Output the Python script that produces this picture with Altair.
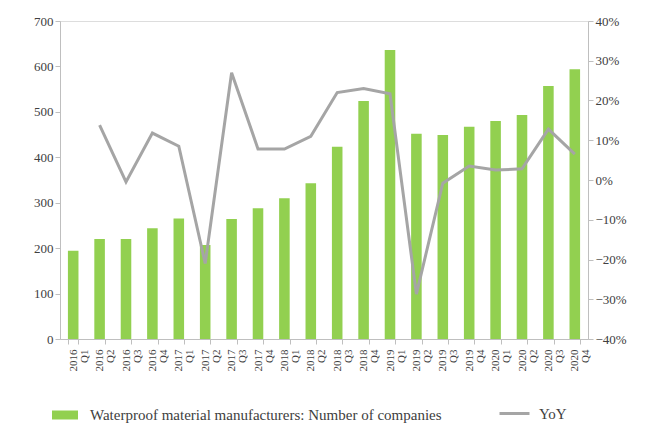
import altair as alt
import pandas as pd

periods = ["2016 Q1", "2016 Q2", "2016 Q3", "2016 Q4",
           "2017 Q1", "2017 Q2", "2017 Q3", "2017 Q4",
           "2018 Q1", "2018 Q2", "2018 Q3", "2018 Q4",
           "2019 Q1", "2019 Q2", "2019 Q3", "2019 Q4",
           "2020 Q1", "2020 Q2", "2020 Q3", "2020 Q4"]
companies = [194, 220, 220, 244, 265, 207, 264, 288, 310, 343,
             423, 524, 636, 452, 449, 467, 480, 493, 557, 594]
yoy_periods = periods[1:]
yoy = [0.138, -0.005, 0.118, 0.085, -0.21, 0.27, 0.078, 0.078, 0.11, 0.22,
       0.23, 0.217, -0.287, -0.008, 0.035, 0.025, 0.028, 0.128, 0.065]

bar_name = "Waterproof material manufacturers: Number of companies"
line_name = "YoY"

bars_df = pd.DataFrame({"period": periods, "value": companies, "series": bar_name})
line_df = pd.DataFrame({"period": yoy_periods, "yoy": yoy, "series2": line_name})

FONT = "Liberation Serif"
xaxis = alt.X("period:N", sort=periods, title=None,
              scale=alt.Scale(domain=periods, paddingInner=0.6, paddingOuter=0.3),
              axis=alt.Axis(labelAngle=-90, labelFont=FONT, labelFontSize=11,
                            labelColor="#404040", domainColor="#bfbfbf",
                            tickColor="#bfbfbf", tickBand="extent",
                            labelExpr="split(datum.label, ' ')",
                            labelLineHeight=11, labelPadding=5))

bars = alt.Chart(bars_df).mark_bar(color="#92D050").encode(
    x=xaxis,
    y=alt.Y("value:Q", title=None,
            scale=alt.Scale(domain=[0, 700], nice=False),
            axis=alt.Axis(values=list(range(0, 701, 100)), grid=False,
                          labelFont=FONT, labelFontSize=13, labelColor="#404040",
                          domainColor="#bfbfbf", tickColor="#bfbfbf", tickSize=5)),
    color=alt.Color("series:N",
                    scale=alt.Scale(domain=[bar_name], range=["#92D050"]),
                    legend=alt.Legend(title=None, orient="none", legendX=-6, legendY=383,
                                      symbolType="M-1.3,-0.45h2.6v0.9h-2.6z",
                                      symbolSize=400, labelFont=FONT, labelFontSize=15,
                                      labelOffset=14, labelLimit=0,
                                      labelColor="#404040")),
)

line = alt.Chart(line_df).mark_line(strokeWidth=3, color="#A5A5A5").encode(
    x=alt.X("period:N", sort=periods),
    y=alt.Y("yoy:Q", title=None,
            scale=alt.Scale(domain=[-0.4, 0.4], nice=False),
            axis=alt.Axis(orient="right", format=".0%",
                          values=[-0.4, -0.3, -0.2, -0.1, 0, 0.1, 0.2, 0.3, 0.4],
                          grid=False, labelFont=FONT, labelFontSize=13,
                          labelColor="#404040", domainColor="#bfbfbf",
                          tickColor="#bfbfbf", tickSize=5)),
    color=alt.Color("series2:N",
                    scale=alt.Scale(domain=[line_name], range=["#A5A5A5"]),
                    legend=alt.Legend(title=None, orient="none", legendX=438, legendY=376,
                                      symbolType="stroke", symbolStrokeWidth=3,
                                      symbolSize=900, labelFont=FONT, labelFontSize=15,
                                      labelOffset=8, labelColor="#404040")),
)

chart = alt.layer(bars, line).resolve_scale(
    y="independent", color="independent"
).properties(
    width=528, height=318,
    padding={"left": 25, "top": 7, "right": 5, "bottom": 5},
).configure_view(stroke=None).configure_axis(
    labelFont=FONT
).configure(font=FONT)

chart.save("out.html", embed_options={"renderer": "svg", "actions": False})
